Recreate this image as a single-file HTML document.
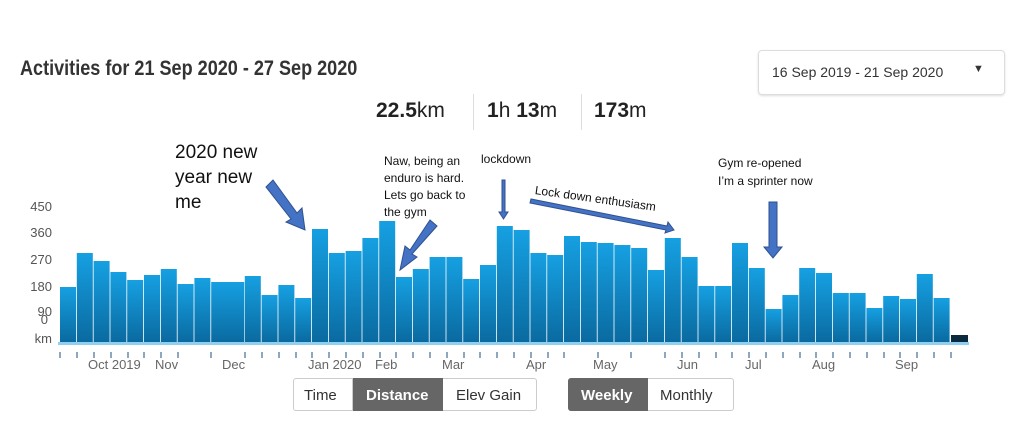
<!DOCTYPE html>
<html><head><meta charset="utf-8"><style>
body{margin:0;width:1024px;height:438px;background:#fff;overflow:hidden;position:relative;font-family:"Liberation Sans Narrow","Liberation Sans",sans-serif;color:#333}
.a{position:absolute}
</style></head><body>
<div class="a" style="left:20px;top:57px;font-size:21px;font-weight:bold;color:#333;transform:scaleX(0.86);transform-origin:left">Activities for 21 Sep 2020 - 27 Sep 2020</div>
<div class="a" style="left:758px;top:50px;width:245px;height:43px;border:1px solid #ddd;border-radius:4px;box-shadow:0 1px 2px #ddd"></div>
<div class="a" style="left:772px;top:64px;font-size:14px;color:#333">16 Sep 2019 - 21 Sep 2020</div>
<div class="a" style="left:973px;top:63px;font-size:11px">▼</div>
<div class="a" style="left:376px;top:99px;font-size:21px;color:#222"><b>22.5</b>km</div>
<div class="a" style="left:473px;top:94px;width:1px;height:36px;background:#ddd"></div>
<div class="a" style="left:487px;top:99px;font-size:21px;color:#222"><b>1</b>h <b>13</b>m</div>
<div class="a" style="left:581px;top:94px;width:1px;height:36px;background:#ddd"></div>
<div class="a" style="left:594px;top:99px;font-size:21px;color:#222"><b>173</b>m</div>

<div class="a" style="left:175px;top:140px;font-size:19px;line-height:25px;color:#111;font-family:'Liberation Sans',sans-serif">2020 new<br>year new<br>me</div>
<div class="a" style="left:384px;top:153px;font-size:12px;line-height:17px;color:#111">Naw, being an<br>enduro is hard.<br>Lets go back to<br>the gym</div>
<div class="a" style="left:481px;top:152px;font-size:12px;color:#111">lockdown</div>
<div class="a" style="left:535px;top:183px;font-size:12px;color:#111;transform:rotate(8deg);transform-origin:left">Lock down enthusiasm</div>
<div class="a" style="left:718px;top:154px;font-size:12px;line-height:18px;color:#111">Gym re-opened<br>I’m a sprinter now</div>

<svg class="a" style="left:0;top:0" width="1024" height="438">
<defs><linearGradient id="g" x1="0" y1="0" x2="0" y2="1"><stop offset="0" stop-color="#16a0e2"/><stop offset="1" stop-color="#0a6aa0"/></linearGradient></defs>
<g font-family="Liberation Sans,sans-serif" font-size="13" fill="#555" text-anchor="end">
<text x="52" y="211">450</text><text x="52" y="237">360</text><text x="52" y="264">270</text><text x="52" y="291">180</text><text x="52" y="316">90</text><text x="48" y="324">0</text><text x="52" y="343">km</text>
</g>
<g fill="url(#g)">
<rect x="60" y="287" width="16" height="55"/><rect x="76.8" y="253" width="16" height="89"/><rect x="93.6" y="261" width="16" height="81"/><rect x="110.4" y="272" width="16" height="70"/><rect x="127.2" y="280" width="16" height="62"/><rect x="144" y="275" width="16" height="67"/><rect x="160.8" y="269" width="16" height="73"/><rect x="177.6" y="284" width="16" height="58"/><rect x="194.4" y="278" width="16" height="64"/><rect x="211.2" y="282" width="33" height="60"/><rect x="244.8" y="276" width="16" height="66"/><rect x="261.6" y="295" width="16" height="47"/><rect x="278.4" y="285" width="16" height="57"/><rect x="295.2" y="298" width="16" height="44"/><rect x="312" y="229" width="16" height="113"/><rect x="328.8" y="253" width="16" height="89"/><rect x="345.6" y="251" width="16" height="91"/><rect x="362.4" y="238" width="16" height="104"/><rect x="379.2" y="221" width="16" height="121"/><rect x="396" y="277" width="16" height="65"/><rect x="412.8" y="269" width="16" height="73"/><rect x="429.6" y="257" width="16" height="85"/><rect x="446.4" y="257" width="16" height="85"/><rect x="463.2" y="279" width="16" height="63"/><rect x="480" y="265" width="16" height="77"/><rect x="496.8" y="226" width="16" height="116"/><rect x="513.6" y="230" width="16" height="112"/><rect x="530.4" y="253" width="16" height="89"/><rect x="547.2" y="255" width="16" height="87"/><rect x="564" y="236" width="16" height="106"/><rect x="580.8" y="242" width="16" height="100"/><rect x="597.6" y="243" width="16" height="99"/><rect x="614.4" y="245" width="16" height="97"/><rect x="631.2" y="248" width="16" height="94"/><rect x="648" y="270" width="16" height="72"/><rect x="664.8" y="238" width="16" height="104"/><rect x="681.6" y="257" width="16" height="85"/><rect x="698.4" y="286" width="16" height="56"/><rect x="715.2" y="286" width="16" height="56"/><rect x="732" y="243" width="16" height="99"/><rect x="748.8" y="268" width="16" height="74"/><rect x="765.6" y="309" width="16" height="33"/><rect x="782.4" y="295" width="16" height="47"/><rect x="799.2" y="268" width="16" height="74"/><rect x="816" y="273" width="16" height="69"/><rect x="832.8" y="293" width="16" height="49"/><rect x="849.6" y="293" width="16" height="49"/><rect x="866.4" y="308" width="16" height="34"/><rect x="883.2" y="296" width="16" height="46"/><rect x="900" y="299" width="16" height="43"/><rect x="916.8" y="274" width="16" height="68"/><rect x="933.6" y="298" width="16" height="44"/>
</g>
<rect x="951" y="335" width="17" height="7" fill="#0a2a40"/>
<rect x="58" y="342" width="911" height="3" fill="#8fd0f0"/>
<g stroke="#6a8aa8" stroke-width="1.5">
<path d="M60 352v6M77 352v6M94 352v6M111 352v6M128 352v6M144 352v6M161 352v6M178 352v6M211 352v6M245 352v6M262 352v6M279 352v6M296 352v6M312 352v6M329 352v6M346 352v6M363 352v6M380 352v6M396 352v6M413 352v6M430 352v6M447 352v6M464 352v6M480 352v6M497 352v6M514 352v6M531 352v6M548 352v6M564 352v6M598 352v6M631 352v6M665 352v6M682 352v6M699 352v6M716 352v6M732 352v6M749 352v6M766 352v6M783 352v6M800 352v6M816 352v6M833 352v6M850 352v6M867 352v6M884 352v6M900 352v6M917 352v6M934 352v6M951 352v6"/>
</g>
<g font-family="Liberation Sans,sans-serif" font-size="13" fill="#666">
<text x="88" y="369">Oct 2019</text><text x="155" y="369">Nov</text><text x="222" y="369">Dec</text><text x="308" y="369">Jan 2020</text><text x="375" y="369">Feb</text><text x="442" y="369">Mar</text><text x="526" y="369">Apr</text><text x="593" y="369">May</text><text x="677" y="369">Jun</text><text x="745" y="369">Jul</text><text x="812" y="369">Aug</text><text x="895" y="369">Sep</text>
</g>
<g fill="#4472c4" stroke="#2f528f" stroke-width="1">
<polygon points="266,187 273,180 297,213 302,208 305,230 286,222 291,219"/>
<polygon points="437,226 430,220 410,250 405,246 400,270 417,257 412,254"/>
<polygon points="502,180 505,180 505,212 508,212 503.5,219 499,212 502,212"/>
<polygon points="530,203 531,199 667,226 668,222 674,230 665,233 666,230"/>
<polygon points="769,202 777,202 777,247 782,247 773,258 764,247 769,247"/>
</g>
</svg>

<div class="a" style="left:293px;top:378px;width:242px;height:31px;border:1px solid #ccc;border-radius:3px"></div>
<div class="a" style="left:353px;top:378px;width:90px;height:33px;background:#666"></div>
<div class="a" style="left:352px;top:378px;width:1px;height:33px;background:#ccc"></div>
<div class="a" style="left:304px;top:387px;font-size:15px;color:#333">Time</div>
<div class="a" style="left:366px;top:387px;font-size:15px;color:#fff;font-weight:bold">Distance</div>
<div class="a" style="left:456px;top:387px;font-size:15px;color:#333">Elev Gain</div>
<div class="a" style="left:568px;top:378px;width:164px;height:31px;border:1px solid #ccc;border-radius:3px"></div>
<div class="a" style="left:568px;top:378px;width:80px;height:33px;background:#666;border-radius:3px 0 0 3px"></div>
<div class="a" style="left:581px;top:387px;font-size:15px;color:#fff;font-weight:bold">Weekly</div>
<div class="a" style="left:660px;top:387px;font-size:15px;color:#333">Monthly</div>
</body></html>
